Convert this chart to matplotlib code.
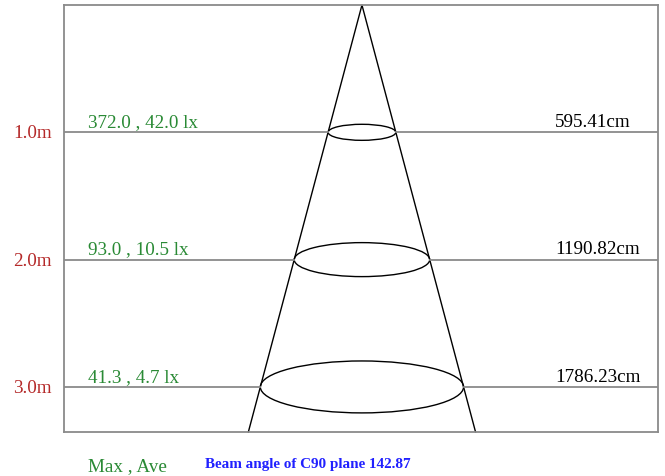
import matplotlib
matplotlib.use("Agg")
import matplotlib.pyplot as plt
from matplotlib.patches import Ellipse

# ---- data ----
depths = [1.0, 2.0, 3.0]
depth_labels = ["1.0m", "2.0m", "3.0m"]
max_lx = [372.0, 93.0, 41.3]
ave_lx = [42.0, 10.5, 4.7]
diameters_cm = [595.41, 1190.82, 1786.23]
beam_angle = 142.87

# drawing geometry (schematic units)
cone_slope = 0.266          # half-width per metre of depth (schematic)
ellipse_heights = [0.126, 0.267, 0.408]
x_left, x_right = -2.34, 2.325
y_bottom = 3.354

plt.rcParams['font.family'] = ['Liberation Serif', 'DejaVu Serif']

fig = plt.figure(figsize=(6.65, 4.77), dpi=100)
ax = fig.add_axes([64/665, (477-433)/477, 594/665, 427/477])
ax.set_xlim(x_left, x_right)
ax.set_ylim(y_bottom, 0)
ax.set_xticks([]); ax.set_yticks([])
for s in ax.spines.values():
    s.set_color('#8a8a8a'); s.set_linewidth(1.3)

grey = '#8a8a8a'
green = '#2a8a35'
red = '#b52a2a'
blue = '#2020ff'

# cone
xb = cone_slope * y_bottom
ax.plot([-xb, 0, xb], [y_bottom, 0, y_bottom], color='black', lw=1.0, clip_on=False)

for d, lab, mx, av, dia, eh in zip(depths, depth_labels, max_lx, ave_lx, diameters_cm, ellipse_heights):
    hw = cone_slope * d
    ax.plot([x_left, -hw], [d, d], color=grey, lw=1.3)
    ax.plot([hw, x_right], [d, d], color=grey, lw=1.3)
    ax.add_patch(Ellipse((0, d), 2*hw, eh, fill=False, ec='black', lw=1.0))
    ax.text(-2.74, d + 0.005, lab, color=red, fontsize=13.8, ha='left', va='center', clip_on=False)
    ax.text(-2.152, d - 0.018, f"{mx:.1f} , {av:.1f} lx", color=green, fontsize=13.8,
            ha='left', va='bottom')
    ax.text(1.516, d - 0.018, f"{dia:.2f}cm", color='black', fontsize=13.8,
            ha='left', va='bottom')

ax.text(-2.152, 3.62, "Max , Ave", color=green, fontsize=13.8, ha='left', va='center', clip_on=False)
ax.text(-1.233, 3.605, f"Beam angle of C90 plane {beam_angle:.2f}", color=blue, fontsize=10.9,
        fontweight='bold', ha='left', va='center', clip_on=False)

fig.savefig("out.png", dpi=100)
